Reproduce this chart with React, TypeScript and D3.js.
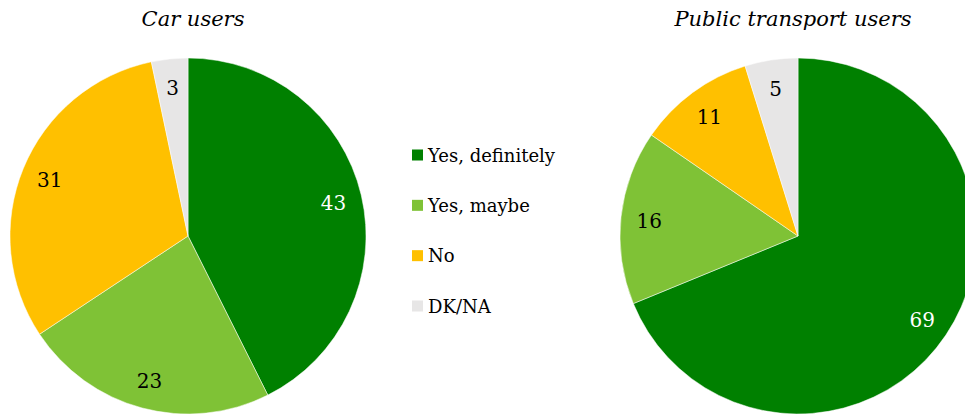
import React from "react";
import * as d3 from "d3";

const categories = ["Yes, definitely", "Yes, maybe", "No", "DK/NA"];
const carValues = [42.6, 23.1, 31.0, 3.3];
const ptValues = [68.8, 15.8, 10.6, 4.8];
const titles = ["Car users", "Public transport users"];
const colors = ["#008000", "#7fc236", "#ffc000", "#e7e6e6"];
const labelColors = ["#ffffff", "#000000", "#000000", "#000000"];

const W = 965;
const H = 414;
const R = 178;
const FONT = "'DejaVu Serif', Georgia, serif";

function Pie({ cx, cy, values, title, titleX }: { cx: number; cy: number; values: number[]; title: string; titleX: number }) {
  const pie = d3.pie<number>().sort(null).value((d) => d);
  const arcs = pie(values);
  const arc = d3.arc<d3.PieArcDatum<number>>().innerRadius(0).outerRadius(R);
  const labelArc = d3.arc<d3.PieArcDatum<number>>().innerRadius(R * 0.84).outerRadius(R * 0.84);
  const fmt = d3.format(".0f");
  return (
    <g>
      <text x={titleX} y={26} textAnchor="middle" fontFamily={FONT} fontStyle="italic" fontSize={21} fill="#000">
        {title}
      </text>
      <g transform={`translate(${cx},${cy})`}>
        {arcs.map((a, i) => (
          <path key={i} d={arc(a) || ""} fill={colors[i]} stroke="#fff" strokeWidth={0.5} />
        ))}
        {arcs.map((a, i) => {
          const [x, y] = labelArc.centroid(a);
          return (
            <text key={"l" + i} x={x} y={y} dy="0.4em" textAnchor="middle" fontFamily={FONT} fontSize={20} fill={labelColors[i]}>
              {fmt(a.data)}
            </text>
          );
        })}
      </g>
    </g>
  );
}

export default function App() {
  const legendY = d3.scalePoint<string>().domain(categories).range([155, 306]);
  return (
    <svg width={W} height={H} style={{ position: "absolute", left: 0, top: 0, background: "#fff" }}>
      <Pie cx={188} cy={236} values={carValues} title={titles[0]} titleX={193} />
      <Pie cx={798} cy={236} values={ptValues} title={titles[1]} titleX={793} />
      {categories.map((c, i) => (
        <g key={c} transform={`translate(412,${legendY(c)})`}>
          <rect x={0} y={-5.5} width={11} height={11} fill={colors[i]} />
          <text x={16} y={0} dy="0.37em" fontFamily={FONT} fontSize={18} fill="#000">
            {c}
          </text>
        </g>
      ))}
    </svg>
  );
}
